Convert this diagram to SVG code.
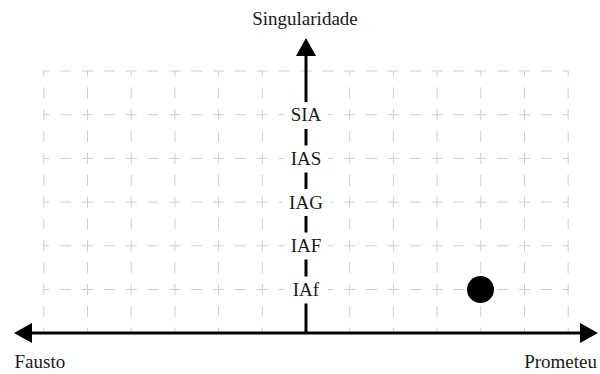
<svg xmlns="http://www.w3.org/2000/svg" width="600" height="374" viewBox="0 0 600 374">
<style>
.grid{stroke:#cfcfcf;stroke-width:1;fill:none;stroke-dasharray:11 10.85;stroke-dashoffset:5.5}
.axis{stroke:#000;stroke-width:3;fill:none}
.t{font-family:"Liberation Serif","Times New Roman",serif;font-size:19px;fill:#1a1a1a}
.bg{fill:#fff}
</style>
<rect width="600" height="374" fill="#fff"/>
<g id="grid">
<path class="grid" d="M43.8 71H568M43.8 114.7H568M43.8 158.4H568M43.8 202.1H568M43.8 245.8H568M43.8 289.5H568M43.8 333.2H568"/>
<path class="grid" d="M43.8 71V333.2M87.5 71V333.2M131.2 71V333.2M174.9 71V333.2M218.6 71V333.2M262.3 71V333.2M349.7 71V333.2M393.4 71V333.2M437.1 71V333.2M480.8 71V333.2M524.5 71V333.2M568.2 71V333.2"/>
</g>
<g id="connectors">
<line class="axis" x1="306" y1="333" x2="306" y2="54"/>
<polygon points="306,38 296,56 316,56" fill="#000"/>
<line class="axis" x1="30" y1="333" x2="582" y2="333"/>
<polygon points="14,333 32,323 32,343" fill="#000"/>
<polygon points="598,333 580,323 580,343" fill="#000"/>
</g>
<g id="label-SIA"><rect class="bg" x="284" y="102" width="44" height="27"/><text class="t" x="306" y="121" text-anchor="middle">SIA</text></g>
<g id="label-IAS"><rect class="bg" x="284" y="145.5" width="44" height="27"/><text class="t" x="306" y="164.8" text-anchor="middle">IAS</text></g>
<g id="label-IAG"><rect class="bg" x="282" y="189" width="48" height="27"/><text class="t" x="306" y="208.5" text-anchor="middle">IAG</text></g>
<g id="label-IAF"><rect class="bg" x="284" y="232.5" width="44" height="27"/><text class="t" x="306" y="252.2" text-anchor="middle">IAF</text></g>
<g id="label-IAf"><rect class="bg" x="284" y="276.5" width="44" height="27"/><text class="t" x="306" y="295.5" text-anchor="middle">IAf</text></g>
<g id="title-top"><text class="t" x="305" y="25" text-anchor="middle">Singularidade</text></g>
<g id="title-left"><text class="t" x="14.5" y="368">Fausto</text></g>
<g id="title-right"><text class="t" x="597" y="368" text-anchor="end">Prometeu</text></g>
<g id="point"><circle cx="480.5" cy="289.5" r="13.5" fill="#000"/></g>
</svg>
